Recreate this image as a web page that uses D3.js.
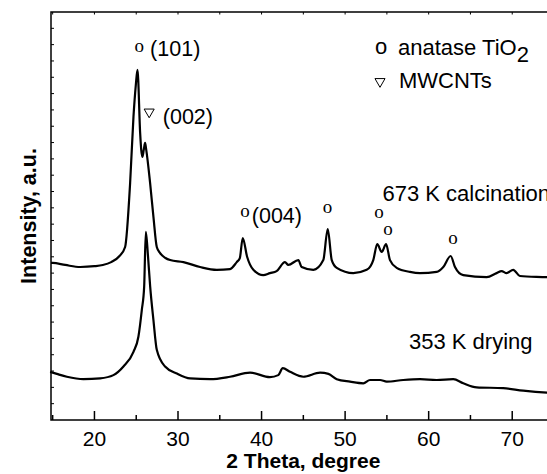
<!DOCTYPE html>
<html>
<head>
<meta charset="utf-8">
<script src="https://cdn.jsdelivr.net/npm/d3@7"></script>
<style>
  body { margin: 0; background: #fff; }
  svg { display: block; overflow: hidden; }
  text { font-family: Arial, "Liberation Sans", sans-serif; fill: #000; }
</style>
</head>
<body>
<svg id="chart" width="547" height="474"></svg>
<script>
// 2-theta positions and intensities (a.u.)
const theta673 = [14.8, 15.0, 16.5, 18.3, 20.0, 21.0, 22.0, 23.0, 23.67, 24.27, 24.67, 24.95, 25.15,
  25.47, 25.6, 25.74, 25.9, 26.06, 26.2, 26.66, 27.06, 27.46, 27.86, 28.5, 29.06, 30.65, 32.64,
  34.64, 36.23, 37.03, 37.4, 37.75, 38.27, 39.02, 40.2, 41.0, 41.8, 42.8, 43.2, 44.4, 44.8, 46.2,
  47.39, 47.92, 48.4, 49.0, 50.98, 52.58, 53.37, 53.85, 54.38, 54.9, 55.37, 56.17, 57.76, 58.96,
  60.96, 61.75, 62.63, 63.15, 64.14, 66.94, 68.13, 68.73, 69.33, 70.12, 70.92, 74.15, 75.0];
const int673 = [38.5, 38.5, 38.0, 37.5, 37.7, 38.0, 38.7, 40.2, 42.4, 58.1, 74.3, 82.1, 85.8,
  70.3, 66.2, 64.5, 66.2, 67.9, 66.2, 58.1, 49.8, 42.4, 40.9, 39.7, 39.2, 38.7, 37.5,
  36.8, 37.0, 38.7, 39.7, 44.6, 40.0, 36.8, 35.5, 36.0, 36.5, 38.7, 38.0, 39.2, 37.5, 36.8,
  39.2, 46.8, 39.2, 37.3, 36.0, 36.8, 39.2, 43.1, 41.2, 43.1, 39.2, 37.3, 36.3, 36.0,
  36.3, 37.5, 40.2, 37.5, 35.5, 35.0, 36.0, 36.5, 36.0, 36.8, 35.3, 35.0, 34.9];

const theta353 = [14.7, 15.5, 16.7, 18.68, 20.68, 22.27, 23.47, 24.67, 25.26, 25.67, 25.95, 26.15,
  26.4, 26.67, 27.06, 27.46, 28.45, 29.86, 31.45, 33.84, 36.23, 38.62, 41.0, 42.0, 42.54, 43.41,
  45.0, 47.0, 48.0, 49.0, 50.59, 52.18, 52.98, 54.18, 54.98, 56.96, 58.96, 60.96, 62.94, 64.14,
  65.74, 68.92, 71.32, 74.15, 75.0];
const int353 = [11.8, 11.3, 10.6, 10.0, 10.2, 11.0, 13.1, 16.7, 20.4, 27.0, 32.7, 46.1,
  40.4, 32.7, 24.5, 17.2, 13.1, 11.4, 10.2, 10.0, 10.6, 11.6, 10.5, 11.0, 12.7, 11.8,
  10.6, 11.6, 11.3, 10.0, 9.4, 9.0, 9.8, 9.8, 9.4, 9.8, 10.0, 9.8, 10.0, 9.0,
  8.0, 7.8, 7.2, 6.7, 6.6];

const xTicks = [20, 30, 40, 50, 60, 70];
const xMinorTicks = [15, 25, 35, 45, 55, 65, 75];

// anatase markers: [2theta, intensity]
const anataseMarks = [[25.36, 90.2], [38.03, 49.8], [47.9, 50.7], [54.06, 49.5], [55.13, 45.3], [62.92, 43.1]];
// hkl labels: [text, 2theta, intensity]
const hklLabels = [["(101)", 26.66, 89.2], ["(002)", 28.18, 72.5], ["(004)", 38.83, 48.4]];
const mwcntMark = [26.55, 75.5];

const svg = d3.select('#chart');
const margin = { left: 51, top: 12, bottom: 54 };
const plotRight = 554; // the frame runs past the picture's right edge

const x = d3.scaleLinear().domain([14.8, 75]).range([margin.left, plotRight]);
const y = d3.scaleLinear().domain([0, 100]).range([474 - margin.bottom, margin.top]);

// curves
const line = d3.line()
  .x((d) => x(d[0]))
  .y((d) => y(d[1]))
  .curve(d3.curveMonotoneX);

svg.append('path')
  .datum(d3.zip(theta673, int673))
  .attr('d', line)
  .attr('fill', 'none')
  .attr('stroke', '#000')
  .attr('stroke-width', 2.2)
  .attr('stroke-linejoin', 'round');

svg.append('path')
  .datum(d3.zip(theta353, int353))
  .attr('d', line)
  .attr('fill', 'none')
  .attr('stroke', '#000')
  .attr('stroke-width', 2.2)
  .attr('stroke-linejoin', 'round');

// frame
svg.append('rect')
  .attr('x', margin.left)
  .attr('y', margin.top)
  .attr('width', plotRight - margin.left)
  .attr('height', y(0) - margin.top)
  .attr('fill', 'none')
  .attr('stroke', '#000')
  .attr('stroke-width', 1.5);

// bottom axis (ticks point inward)
const xAxis = svg.append('g').attr('transform', `translate(0,${y(0)})`);
xAxis.selectAll('line.major')
  .data(xTicks)
  .join('line')
  .attr('x1', (d) => x(d)).attr('x2', (d) => x(d))
  .attr('y1', 0).attr('y2', -9)
  .attr('stroke', '#000').attr('stroke-width', 1.5);
xAxis.selectAll('line.minor')
  .data(xMinorTicks)
  .join('line')
  .attr('x1', (d) => x(d)).attr('x2', (d) => x(d))
  .attr('y1', 0).attr('y2', -5)
  .attr('stroke', '#000').attr('stroke-width', 1.5);
xAxis.selectAll('text')
  .data(xTicks)
  .join('text')
  .attr('x', (d) => x(d))
  .attr('y', 26)
  .attr('text-anchor', 'middle')
  .attr('font-size', 21)
  .text((d) => d);

// top ticks (tiny, inward)
svg.append('g').selectAll('line')
  .data(xTicks.concat(xMinorTicks))
  .join('line')
  .attr('x1', (d) => x(d)).attr('x2', (d) => x(d))
  .attr('y1', margin.top).attr('y2', margin.top + 2.5)
  .attr('stroke', '#000').attr('stroke-width', 1);

// left ticks
svg.append('g').selectAll('line')
  .data(d3.range(4, 100, 4))
  .join('line')
  .attr('x1', margin.left).attr('x2', margin.left + 3)
  .attr('y1', (d) => y(d)).attr('y2', (d) => y(d))
  .attr('stroke', '#000').attr('stroke-width', 1);

// axis titles
svg.append('text')
  .attr('x', x(45))
  .attr('y', 468)
  .attr('text-anchor', 'middle')
  .attr('font-size', 21)
  .attr('font-weight', 'bold')
  .text('2 Theta, degree');

svg.append('text')
  .attr('transform', `translate(36,${(y(0) + y(100)) / 2}) rotate(-90)`)
  .attr('text-anchor', 'middle')
  .attr('font-size', 21.5)
  .attr('font-weight', 'bold')
  .text('Intensity, a.u.');

// peak annotations
svg.append('g').selectAll('text')
  .data(anataseMarks)
  .join('text')
  .attr('x', (d) => x(d[0]))
  .attr('y', (d) => y(d[1]))
  .attr('text-anchor', 'middle')
  .attr('font-size', 19)
  .style('font-family', '"Liberation Serif", "Times New Roman", serif')
  .text('o');

svg.append('g').selectAll('text')
  .data(hklLabels)
  .join('text')
  .attr('x', (d) => x(d[1]))
  .attr('y', (d) => y(d[2]))
  .attr('font-size', 21.5)
  .text((d) => d[0]);

const triangle = d3.symbol().type(d3.symbolTriangle).size(44);
svg.append('path')
  .attr('d', triangle)
  .attr('transform', `translate(${x(mwcntMark[0])},${y(mwcntMark[1])}) rotate(180)`)
  .attr('fill', 'none')
  .attr('stroke', '#000')
  .attr('stroke-width', 1);

// legend
const legend = svg.append('g');
legend.append('text')
  .attr('x', 375).attr('y', 54)
  .attr('font-size', 22)
  .text('o');
const l1 = legend.append('text')
  .attr('x', 398).attr('y', 55)
  .attr('font-size', 22)
  .text('anatase TiO');
l1.append('tspan').attr('dy', 7).text('2');
legend.append('path')
  .attr('d', triangle)
  .attr('transform', 'translate(380,81.5) rotate(180)')
  .attr('fill', 'none')
  .attr('stroke', '#000')
  .attr('stroke-width', 1);
legend.append('text')
  .attr('x', 399).attr('y', 88)
  .attr('font-size', 22)
  .text('MWCNTs');

// curve labels (the first runs off the right edge, as in the original)
svg.append('text')
  .attr('x', 382.5).attr('y', 200.5)
  .attr('font-size', 22)
  .text('673 K calcination');
svg.append('text')
  .attr('x', 409).attr('y', 349)
  .attr('font-size', 22)
  .text('353 K drying');
</script>
</body>
</html>
